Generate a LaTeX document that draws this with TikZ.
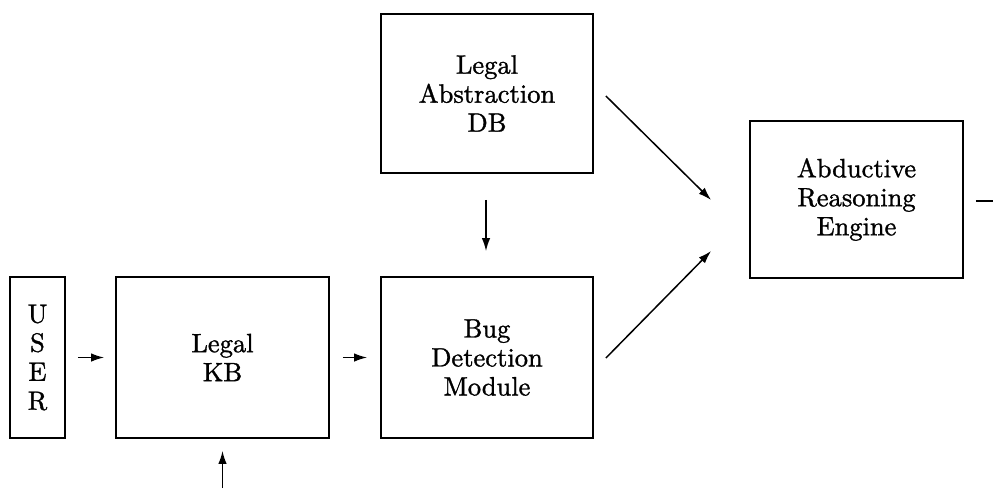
\documentclass[tikz,border=0pt]{standalone}
\usepackage{fontspec}
\setmainfont{lmroman10-regular.otf}[FakeBold=1.2]
\usetikzlibrary{arrows.meta,calc}
\begin{document}
\begin{tikzpicture}[x=1pt,y=-1pt,
  box/.style={draw,line width=1.8pt,rectangle,inner sep=0pt,align=center,
    font=\fontsize{26.5}{29}\selectfont},
  arr/.style={line width=1.5pt,-{Latex[length=13pt,width=8.5pt]}},
  plain/.style={line width=1.5pt}]
\useasboundingbox (0,0) rectangle (993,488);
\node[box,minimum width=55pt,minimum height=161pt] (user) at (37.5,357.5) {U\\S\\E\\R};
\node[box,minimum width=213pt,minimum height=161pt] (kb) at (222.5,357.5) {Legal\\KB};
\node[box,minimum width=212pt,minimum height=161pt] (bug) at (487,357.5) {Bug\\Detection\\Module};
\node[box,minimum width=212pt,minimum height=159pt] (abs) at (487,93.5) {Legal\\Abstraction\\DB};
\node[box,minimum width=213pt,minimum height=157pt] (are) at (856.5,199.5) {Abductive\\Reasoning\\Engine};
\coordinate (kbin) at (222.5,488);
\coordinate (outend) at (993,201);
\draw[arr,shorten <=12pt,shorten >=11pt] (user.east) -- (kb.west);
\draw[arr,shorten <=13pt,shorten >=13pt] (kb.east) -- (bug.west);
\draw[arr,shorten <=26pt,shorten >=25pt] ($(abs.south)+(-1,0)$) -- ($(bug.north)+(-1,0)$);
\draw[arr] ($(abs.east)+(12,2.5)$) -- ($(are.west)+(-38,0.5)$);
\draw[arr] ($(bug.east)+(12,0.5)$) -- ($(are.west)+(-38,51.5)$);
\draw[arr,shorten >=12pt] (kbin) -- (kb.south);
\draw[plain] ($(are.east)+(12,1.5)$) -- (outend);
\end{tikzpicture}
\end{document}
